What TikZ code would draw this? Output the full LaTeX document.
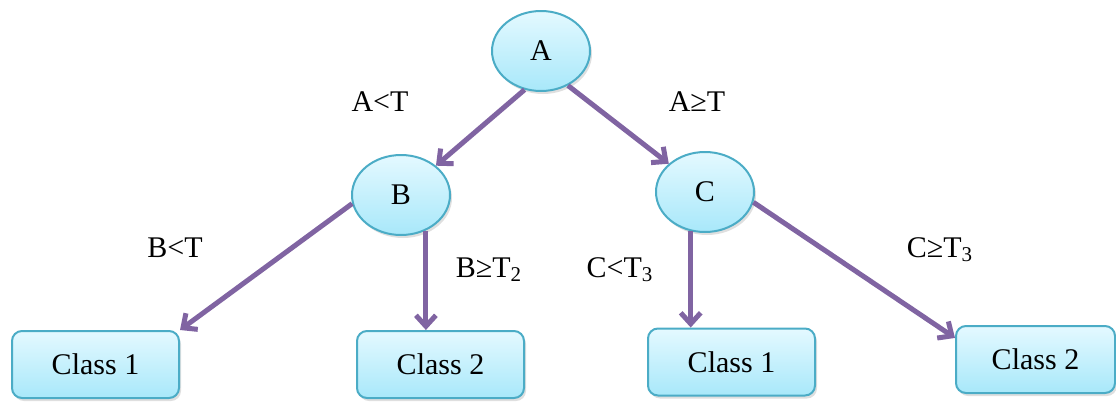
\documentclass[tikz,border=0pt]{standalone}
\usepackage{fontspec}
\setmainfont{Liberation Serif}
\usetikzlibrary{shapes.geometric,arrows.meta,shadows}
\definecolor{nodeedge}{HTML}{4BACC6}
\definecolor{topfill}{HTML}{E4F9FF}
\definecolor{botfill}{HTML}{A8E8FA}
\definecolor{arrowc}{HTML}{8064A2}
\begin{document}
\begin{tikzpicture}[x=0.5pt,y=-0.5pt,
  every node/.style={font=\fontsize{15}{17}\selectfont},
  base/.style={draw=nodeedge, line width=1pt, top color=topfill, bottom color=botfill,
    drop shadow={shadow xshift=1pt, shadow yshift=-1.5pt, opacity=0.25}},
  decision/.style={base, ellipse, minimum width=49pt, minimum height=40pt, inner sep=0pt},
  leaf/.style={base, rectangle, rounded corners=5pt, minimum width=83.5pt, minimum height=33.5pt},
  link/.style={draw=arrowc, line width=2.5pt, -{Straight Barb[length=5.5pt,width=10pt]}},
  cond/.style={inner sep=0pt}]
\useasboundingbox (0,0) rectangle (1116,414);
% decision nodes
\node[decision] (A) at (541,51) {A};
\node[decision] (B) at (401,195) {B};
\node[decision] (C) at (705,192) {C};
% leaves
\node[leaf] (c1) at (95.5,364.5) {Class 1};
\node[leaf] (c2) at (440.5,364.5) {Class 2};
\node[leaf] (c3) at (731.5,362) {Class 1};
\node[leaf, minimum width=79.5pt] (c4) at (1035.5,359.5) {Class 2};
% condition labels
\node[cond] (lA1) at (380,102) {A<T};
\node[cond] (lA2) at (697,102) {A≥T};
\node[cond] (lB1) at (175,248) {B<T};
\node[cond] (lB2) at (489,270) {B≥T\textsubscript{2}};
\node[cond] (lC1) at (620,270) {C<T\textsubscript{3}};
\node[cond] (lC2) at (940,250) {C≥T\textsubscript{3}};
% connectors
\draw[link] (A.247) -- (B.40);
\draw[link] (A.308) -- (C.142);
\draw[link] (B.190) -- (c1.north east);
\draw[link] (B.305) -- (B.305 |- c2.north);
\draw[link] (C.250) -- (C.250 |- c3.north);
\draw[link] (C.348) -- (c4.165);
\end{tikzpicture}
\end{document}
